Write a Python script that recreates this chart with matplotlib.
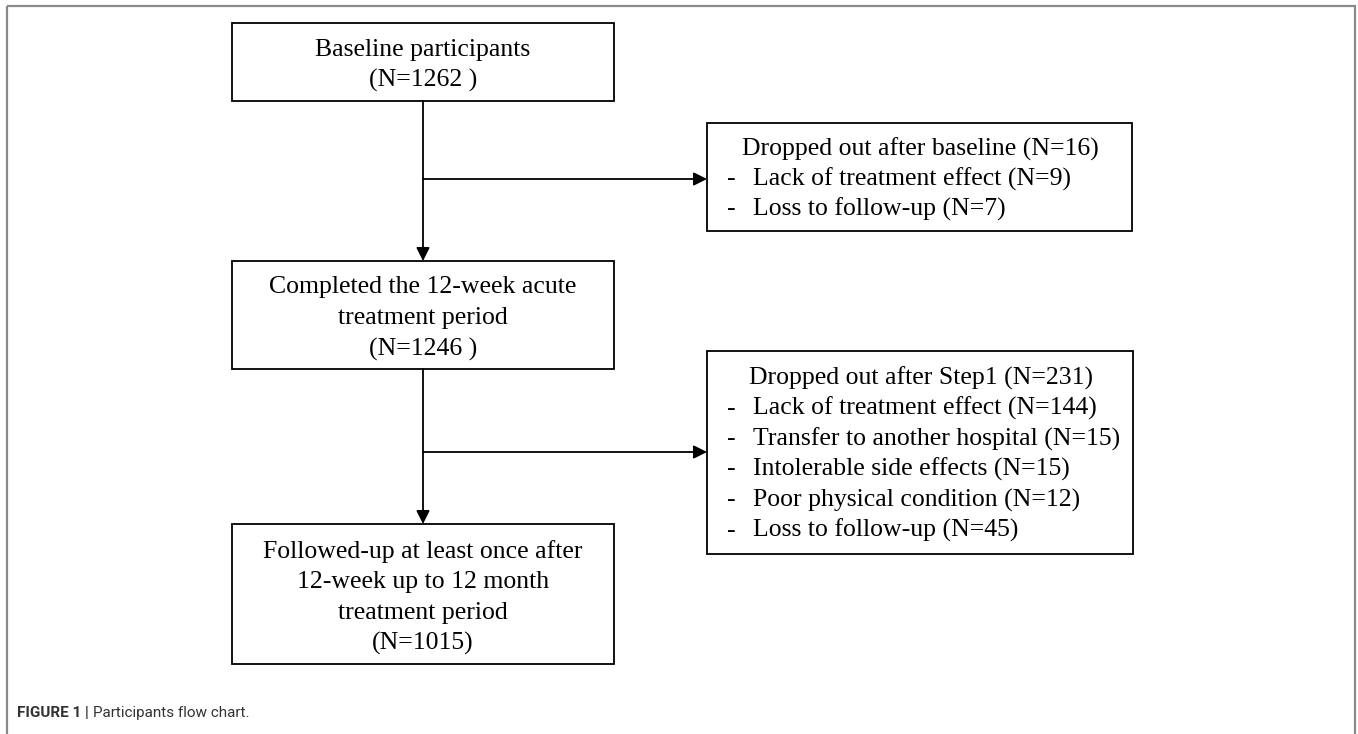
import matplotlib.pyplot as plt
from matplotlib.patches import Rectangle

# Participant counts at each stage
baseline_n = 1262
completed_n = 1246
followed_n = 1015

# Dropouts after baseline
drop1_total = 16
drop1_reasons = ['Lack of treatment effect', 'Loss to follow-up']
drop1_n = [9, 7]

# Dropouts after step 1
drop2_total = 231
drop2_reasons = ['Lack of treatment effect', 'Transfer to another hospital',
                 'Intolerable side effects', 'Poor physical condition',
                 'Loss to follow-up']
drop2_n = [144, 15, 15, 12, 45]

W, H = 1358, 734
fig = plt.figure(figsize=(W / 100, H / 100), dpi=100)
ax = fig.add_axes([0, 0, 1, 1])
ax.set_xlim(0, W)
ax.set_ylim(H, 0)
ax.axis('off')

serif = 'Liberation Serif'
fs = 18.5
lw = 1.3

# outer frame
ax.add_patch(Rectangle((7, 6), 1348, 760, fill=False, edgecolor='#8a8a8a', lw=1.6, clip_on=False))


def main_box(x0, y0, x1, y1, text):
    ax.add_patch(Rectangle((x0, y0), x1 - x0, y1 - y0, fill=False, edgecolor='black', lw=lw))
    ax.text((x0 + x1) / 2, (y0 + y1) / 2 + 3.5, text, ha='center', va='center',
            fontsize=fs, family=serif, linespacing=1.5)


def side_box(x0, y0, x1, y1, header, header_x, reasons, counts, first_y, step):
    ax.add_patch(Rectangle((x0, y0), x1 - x0, y1 - y0, fill=False, edgecolor='black', lw=lw))
    ax.text(header_x, first_y, header, ha='left', va='center', fontsize=fs, family=serif)
    for i, (r, n) in enumerate(zip(reasons, counts)):
        y = first_y + step * (i + 1)
        ax.text(727, y, '-', ha='left', va='center', fontsize=fs, family=serif)
        ax.text(753, y, f'{r} (N={n})', ha='left', va='center', fontsize=fs, family=serif)


def arrow(x0, y0, x1, y1):
    ax.annotate('', xy=(x1, y1), xytext=(x0, y0),
                arrowprops=dict(arrowstyle='-|>', color='black', lw=lw,
                                mutation_scale=20, shrinkA=0, shrinkB=0))


cx = 423
main_box(232, 23, 614, 101, f'Baseline participants\n(N={baseline_n} )')
main_box(232, 261, 614, 369, f'Completed the 12-week acute\ntreatment period\n(N={completed_n} )')
main_box(232, 524, 614, 664,
         f'Followed-up at least once after\n12-week up to 12 month\ntreatment period\n(N={followed_n})')

side_box(707, 123, 1132, 231, f'Dropped out after baseline (N={drop1_total})', 742,
         drop1_reasons, drop1_n, 149, 30)
side_box(707, 351, 1133, 554, f'Dropped out after Step1 (N={drop2_total})', 749,
         drop2_reasons, drop2_n, 378, 30.5)

arrow(cx, 101, cx, 261)
arrow(cx, 179, 707, 179)
arrow(cx, 369, cx, 524)
arrow(cx, 452, 707, 452)

# caption
bold = ax.text(17, 713, 'FIGURE 1 |', ha='left', va='center', fontsize=11,
               family='Roboto', fontweight='bold', color='#333333')
ax.annotate('Participants flow chart.', xy=(1, 0.5), xycoords=bold,
            xytext=(3, 0), textcoords='offset points', ha='left', va='center',
            fontsize=11, family='Roboto', color='#333333')

fig.savefig('out.png', dpi=100)
